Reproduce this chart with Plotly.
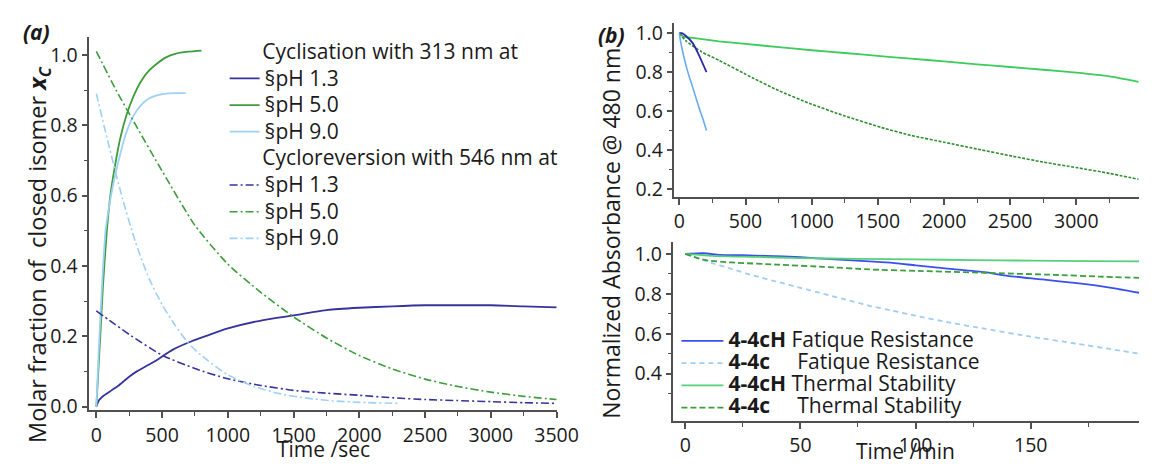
import plotly.graph_objects as go

W, H = 1153, 465
FONT = "Open Sans"
TXT = "#1a1a1a"
AX = "#505050"

# ---------------- Panel (a): molar fraction vs time (sec) ----------------
cyc_t_13 = [0, 20, 33, 60, 115, 170, 250, 308, 445, 582, 720, 830, 1000, 1270, 1500, 1760, 2000, 2250, 2500, 2750, 3000, 3250, 3500]
cyc_13 = [0.0, 0.018, 0.023, 0.032, 0.046, 0.06, 0.085, 0.10, 0.129, 0.162, 0.185, 0.2, 0.222, 0.246, 0.259, 0.275, 0.281, 0.285, 0.288, 0.288, 0.288, 0.285, 0.282]

cyc_t_50 = [0, 15, 30, 50, 80, 110, 140, 180, 230, 280, 340, 400, 460, 530, 600, 700, 800]
cyc_50 = [0.0, 0.1, 0.2, 0.34, 0.5, 0.61, 0.68, 0.76, 0.83, 0.88, 0.925, 0.955, 0.975, 0.993, 1.003, 1.009, 1.012]

cyc_t_90 = [0, 15, 30, 50, 70, 100, 130, 170, 220, 280, 340, 400, 460, 530, 600, 680]
cyc_90 = [0.0, 0.13, 0.25, 0.39, 0.5, 0.575, 0.635, 0.70, 0.77, 0.825, 0.857, 0.876, 0.885, 0.89, 0.891, 0.891]

rev_t_13 = [0, 100, 250, 500, 750, 1000, 1250, 1500, 1750, 2000, 2250, 2500, 2750, 3000, 3250, 3500]
rev_13 = [0.272, 0.245, 0.205, 0.146, 0.108, 0.079, 0.06, 0.046, 0.038, 0.032, 0.025, 0.02, 0.017, 0.014, 0.011, 0.009]

rev_t_50 = [0, 150, 300, 500, 750, 1000, 1250, 1500, 1750, 2000, 2250, 2500, 2750, 3000, 3250, 3500]
rev_50 = [1.01, 0.9, 0.8, 0.67, 0.515, 0.405, 0.325, 0.255, 0.195, 0.145, 0.107, 0.078, 0.057, 0.041, 0.029, 0.02]

rev_t_90 = [0, 100, 200, 300, 400, 500, 600, 700, 800, 1000, 1200, 1400, 1600, 1800, 2000, 2300]
rev_90 = [0.89, 0.735, 0.59, 0.465, 0.365, 0.29, 0.23, 0.18, 0.145, 0.09, 0.057, 0.036, 0.024, 0.016, 0.012, 0.009]

ph_labels = ["§pH 1.3", "§pH 5.0", "§pH 9.0"]
group_titles = ["Cyclisation with 313 nm at", "Cycloreversion with 546 nm at"]

# ---------------- Panel (b) top: normalized absorbance vs time (sec) ----------------
bt_t_green = [0, 30, 100, 300, 500, 750, 1000, 1250, 1500, 1750, 2000, 2250, 2500, 2750, 3000, 3250, 3470]
bt_green = [1.0, 0.982, 0.975, 0.958, 0.945, 0.928, 0.912, 0.898, 0.883, 0.869, 0.855, 0.84, 0.826, 0.812, 0.797, 0.778, 0.75]

bt_t_dash = [0, 50, 168, 300, 555, 750, 1000, 1250, 1530, 1750, 2000, 2250, 2520, 2750, 3000, 3250, 3470]
bt_dash = [1.0, 0.96, 0.904, 0.86, 0.77, 0.705, 0.635, 0.575, 0.515, 0.475, 0.44, 0.405, 0.368, 0.338, 0.31, 0.28, 0.25]

bt_t_navy = [0, 20, 50, 100, 150, 205]
bt_navy = [1.0, 1.0, 0.985, 0.95, 0.885, 0.80]

bt_t_lb = [0, 10, 30, 60, 90, 120, 150, 180, 205]
bt_lb = [1.0, 0.955, 0.89, 0.81, 0.745, 0.68, 0.615, 0.555, 0.50]

# ---------------- Panel (b) bottom: normalized absorbance vs time (min) ----------------
bb_t_blue = [0, 8, 15, 25, 35, 50, 65, 80, 90, 100, 115, 130, 140, 155, 170, 185, 197]
bb_blue = [1.0, 1.003, 0.995, 0.993, 0.99, 0.983, 0.972, 0.962, 0.955, 0.942, 0.925, 0.908, 0.89, 0.872, 0.853, 0.83, 0.805]

bb_t_lbd = [0, 10, 20, 30, 40, 50, 60, 70, 80, 90, 100, 115, 130, 150, 170, 185, 197]
bb_lbd = [1.0, 0.96, 0.925, 0.89, 0.86, 0.83, 0.8, 0.77, 0.74, 0.715, 0.69, 0.655, 0.625, 0.585, 0.55, 0.522, 0.5]

bb_t_gs = [0, 12, 30, 50, 75, 100, 125, 150, 175, 197]
bb_gs = [1.0, 0.99, 0.985, 0.979, 0.975, 0.972, 0.969, 0.966, 0.964, 0.962]

bb_t_gd = [0, 5, 10, 20, 40, 60, 80, 100, 130, 160, 180, 197]
bb_gd = [1.0, 0.98, 0.966, 0.957, 0.946, 0.935, 0.922, 0.915, 0.905, 0.895, 0.886, 0.88]

legend_b = [
    ("4-4cH", " Fatique Resistance"),
    ("4-4c", "\u00a0\u00a0\u00a0\u00a0 Fatique Resistance"),
    ("4-4cH", " Thermal Stability"),
    ("4-4c", "\u00a0\u00a0\u00a0\u00a0 Thermal Stability"),
]

# colours
NAVY = "#34349c"
GREEN_A = "#3d9d3d"
LBLUE_A = "#9fd0f5"
DASHDOT = "8px,3px,2px,3px"


def px_x(p):
    return p / W


def px_y(p):
    return 1 - p / H


def big(s, size):
    return '<span style="font-size:%dpx">%s</span>' % (size, s)


fig = go.Figure()

# panel (a) traces
for t, v, c, name, first in [
    (cyc_t_13, cyc_13, NAVY, ph_labels[0], True),
    (cyc_t_50, cyc_50, GREEN_A, ph_labels[1], False),
    (cyc_t_90, cyc_90, LBLUE_A, ph_labels[2], False),
]:
    tr = dict(x=t, y=v, mode="lines", name=big(name, 21), legendgroup="cyc",
              line=dict(color=c, width=1.8, shape="spline", smoothing=0.6),
              xaxis="x", yaxis="y", legend="legend")
    if first:
        tr["legendgrouptitle"] = dict(text=big("\u00a0" * 6 + group_titles[0], 21))
    fig.add_trace(go.Scatter(**tr))

for t, v, c, name, first in [
    (rev_t_13, rev_13, NAVY, ph_labels[0], True),
    (rev_t_50, rev_50, GREEN_A, ph_labels[1], False),
    (rev_t_90, rev_90, LBLUE_A, ph_labels[2], False),
]:
    tr = dict(x=t, y=v, mode="lines", name=big(name, 21), legendgroup="rev",
              line=dict(color=c, width=1.6, dash=DASHDOT, shape="spline", smoothing=0.6),
              xaxis="x", yaxis="y", legend="legend")
    if first:
        tr["legendgrouptitle"] = dict(text=big("\u00a0" * 6 + group_titles[1], 21))
    fig.add_trace(go.Scatter(**tr))

# panel (b) top traces
fig.add_trace(go.Scatter(x=bt_t_green, y=bt_green, mode="lines", showlegend=False,
                         line=dict(color="#3ccb5c", width=1.8, shape="spline", smoothing=0.5),
                         xaxis="x2", yaxis="y2"))
fig.add_trace(go.Scatter(x=bt_t_dash, y=bt_dash, mode="lines", showlegend=False,
                         line=dict(color="#2e8f2e", width=1.6, dash="3px,1.5px", shape="spline", smoothing=0.5),
                         xaxis="x2", yaxis="y2"))
fig.add_trace(go.Scatter(x=bt_t_navy, y=bt_navy, mode="lines", showlegend=False,
                         line=dict(color="#2b2ba8", width=1.8, shape="spline", smoothing=0.5),
                         xaxis="x2", yaxis="y2"))
fig.add_trace(go.Scatter(x=bt_t_lb, y=bt_lb, mode="lines", showlegend=False,
                         line=dict(color="#6aaaf0", width=1.6, shape="spline", smoothing=0.5),
                         xaxis="x2", yaxis="y2"))

# panel (b) bottom traces
for t, v, c, d, (bold, rest) in [
    (bb_t_blue, bb_blue, "#3a4ff0", "solid", legend_b[0]),
    (bb_t_lbd, bb_lbd, "#9fcdf3", "5px,4px", legend_b[1]),
    (bb_t_gs, bb_gs, "#55d07a", "solid", legend_b[2]),
    (bb_t_gd, bb_gd, "#3aa03a", "6px,3px", legend_b[3]),
]:
    fig.add_trace(go.Scatter(x=t, y=v, mode="lines", name=big("<b>%s</b>%s" % (bold, rest), 21),
                             line=dict(color=c, width=1.8, dash=d, shape="spline", smoothing=0.5),
                             xaxis="x3", yaxis="y3", legend="legend2"))

tickfont = dict(family=FONT, size=19.5, color=TXT)
common = dict(showline=True, linecolor=AX, linewidth=1.5, ticks="outside", ticklen=6,
              tickwidth=1.5, tickcolor=AX, showgrid=False, zeroline=False,
              tickfont=tickfont)
minor_c = dict(ticks="outside", ticklen=4, tickwidth=1.3, tickcolor=AX)

fig.update_layout(
    width=W, height=H,
    margin=dict(l=0, r=0, t=0, b=0),
    paper_bgcolor="white", plot_bgcolor="white",
    font=dict(family=FONT, color=TXT),
    xaxis=dict(domain=[px_x(82), px_x(559)], range=[-53, 3502], dtick=500, tick0=0,
               minor=dict(dtick=250, tick0=0, **minor_c),
               anchor="y", **common),
    yaxis=dict(domain=[px_y(410), px_y(27)], range=[-0.011, 1.05], dtick=0.2, tick0=0,
               tickformat=".1f",
               minor=dict(dtick=0.1, tick0=0, **minor_c),
               anchor="x", **common),
    xaxis2=dict(domain=[px_x(679), 1.0], range=[-37, 3474], dtick=500, tick0=0,
                minor=dict(dtick=250, tick0=0, **minor_c),
                anchor="y2", **common),
    yaxis2=dict(domain=[px_y(191), px_y(12)], range=[0.1585, 1.0535], dtick=0.2, tick0=0,
                tickformat=".1f",
                minor=dict(dtick=0.1, tick0=0, **minor_c),
                anchor="x2", **common),
    xaxis3=dict(domain=[px_x(678), 1.0], range=[-5.1, 197], dtick=50, tick0=0,
                minor=dict(dtick=25, tick0=0, **minor_c),
                anchor="y3", **common),
    yaxis3=dict(domain=[px_y(421), px_y(237)], range=[0.162, 1.06],
                tickmode="array", tickvals=[0.4, 0.6, 0.8, 1.0], tickformat=".1f",
                minor=dict(tickmode="array", tickvals=[0.3, 0.5, 0.7, 0.9], **minor_c),
                anchor="x3", **common),
    legend=dict(x=px_x(220), y=px_y(23), xanchor="left", yanchor="top",
                bgcolor="rgba(0,0,0,0)", tracegroupgap=0, traceorder="grouped",
                font=dict(family=FONT, size=18.2, color=TXT),
                grouptitlefont=dict(family=FONT, size=18.2, color=TXT)),
    legend2=dict(x=px_x(681), y=px_y(322), xanchor="left", yanchor="top",
                 bgcolor="rgba(0,0,0,0)", tracegroupgap=0, itemwidth=42,
                 font=dict(family=FONT, size=14.8, color=TXT)),
)

ann = [
    dict(text="<b><i>(a)</i></b>", x=px_x(28), y=px_y(22), size=21),
    dict(text="<b><i>(b)</i></b>", x=px_x(615), y=px_y(25), size=21),
    dict(text="Time /sec", x=px_x(321), y=px_y(450), size=21),
    dict(text="Time /min", x=px_x(915), y=px_y(452), size=21),
]
for a in ann:
    fig.add_annotation(text=a["text"], x=a["x"], y=a["y"], xref="paper", yref="paper",
                       showarrow=False, xanchor="center", yanchor="middle",
                       font=dict(family=FONT, size=a["size"], color=TXT))

fig.add_annotation(text="Molar fraction of  closed isomer <b><i>x<sub>C</sub></i></b>",
                   x=px_x(30), y=px_y(250), xref="paper", yref="paper", showarrow=False,
                   textangle=-90, xanchor="center", yanchor="middle",
                   font=dict(family=FONT, size=23.5, color=TXT))
fig.add_annotation(text="Normalized Absorbance @ 480 nm",
                   x=px_x(614), y=px_y(228), xref="paper", yref="paper", showarrow=False,
                   textangle=-90, xanchor="center", yanchor="middle",
                   font=dict(family=FONT, size=23, color=TXT))

fig.write_html("out.html")
